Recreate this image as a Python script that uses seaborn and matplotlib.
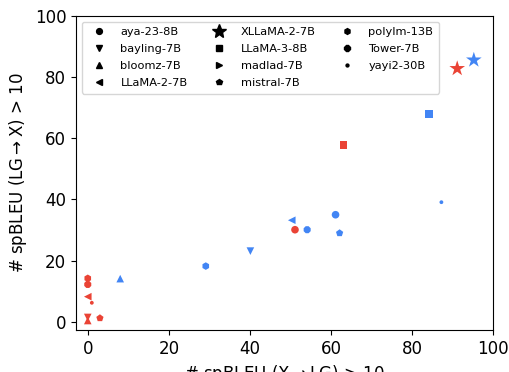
import matplotlib
matplotlib.use("Agg")
import matplotlib.pyplot as plt
from matplotlib.lines import Line2D
import numpy as np
import pandas as pd
import seaborn as sns

models = ["aya-23-8B", "bayling-7B", "bloomz-7B", "LLaMA-2-7B", "XLLaMA-2-7B",
          "LLaMA-3-8B", "madlad-7B", "mistral-7B", "polylm-13B", "Tower-7B", "yayi2-30B"]
markers = ["o", "v", "^", "<", "*", "s", ">", "p", "h", "8", "."]

# red series
red_x = [51.1, 0.0, 0.0, 0.0, 91.1, 63.1, np.nan, 3.0, 0.0, 0.0, 1.0]
red_y = [30.1, 1.4, 0.4, 8.2, 82.8, 57.9, np.nan, 1.2, 14.2, 12.2, 6.2]
# blue series
blue_x = [61.1, 40.1, 8.0, 50.3, 95.2, 84.2, np.nan, 62.1, 29.1, 54.1, 87.2]
blue_y = [35.0, 23.1, 14.1, 33.2, 85.6, 67.9, np.nan, 29.0, 18.2, 30.1, 39.1]

xticks = [0, 20, 40, 60, 80, 100]
yticks = [0, 20, 40, 60, 80, 100]

RED = "#EA4335"
BLUE = "#4285F4"

rows = []
for i, m in enumerate(models):
    rows.append(dict(model=m, group="red", x=red_x[i], y=red_y[i]))
    rows.append(dict(model=m, group="blue", x=blue_x[i], y=blue_y[i]))
df = pd.DataFrame(rows).dropna()
df["size"] = np.where(df["model"] == "XLLaMA-2-7B", "big", "small")

plt.rcParams["font.family"] = ["DejaVu Sans"]
fig = plt.figure(figsize=(5.09, 3.72), dpi=100)
ax = fig.add_axes([76 / 509, 1 - 330 / 372, (493.3 - 76) / 509, (330 - 16) / 372])

sns.scatterplot(data=df, x="x", y="y", hue="group", style="model",
                markers=dict(zip(models, markers)),
                palette={"red": RED, "blue": BLUE},
                size="size", sizes={"big": 140, "small": 30},
                edgecolor="none", linewidth=0, legend=False, ax=ax, zorder=3)

ax.set_xlim(-2.9, 100)
ax.set_ylim(-2.7, 100)
ax.set_xticks(xticks)
ax.set_yticks(yticks)
ax.tick_params(labelsize=12)
ax.set_xlabel("# spBLEU (X$\\rightarrow$LG) > 10", fontsize=12)
ax.set_ylabel("# spBLEU (LG$\\rightarrow$X) > 10", fontsize=12)

handles = []
for m, mk in zip(models, markers):
    ms = 10 if mk == "*" else 4.2
    handles.append(Line2D([], [], linestyle="none", marker=mk, color="black",
                          markersize=ms, label=m))
ax.legend(handles=handles, ncol=3, loc="upper left", fontsize=8.2,
          columnspacing=1.75, handletextpad=0.9, labelspacing=0.6,
          borderaxespad=0.5, borderpad=0.5)

fig.savefig("out.png", dpi=100)
